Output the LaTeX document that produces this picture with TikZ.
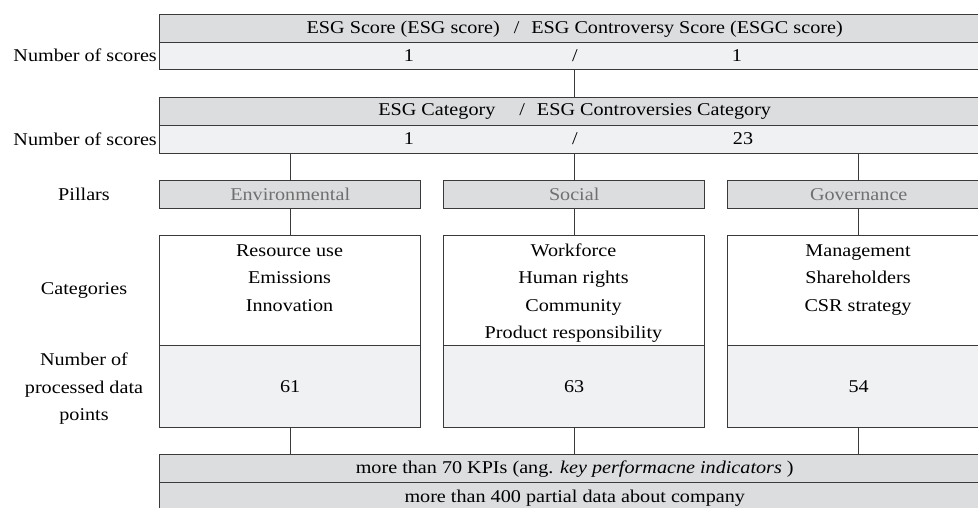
\documentclass[tikz,border=0pt]{standalone}
\usepackage{fontspec}
\setmainfont{Liberation Serif}[FakeStretch=1.12]
\definecolor{gA}{HTML}{DCDDDF}
\definecolor{gB}{HTML}{F0F1F3}
\definecolor{lc}{HTML}{3A3A3A}
\definecolor{pt}{HTML}{707070}
\begin{document}
\begin{tikzpicture}[x=1pt,y=-1pt,
  every node/.style={font=\fontsize{18}{27.5}\selectfont, inner sep=0pt, text=black},
  box/.style={draw=lc, line width=1.4pt, anchor=north west, inner sep=0pt},
  dark/.style={box, fill=gA},
  light/.style={box, fill=gB},
  plain/.style={box, fill=white},
  pill/.style={dark, text=pt},
  conn/.style={draw=lc, line width=1.4pt},
  lbl/.style={align=center}
]
\useasboundingbox (0,0) rectangle (978,507);
\clip (0,0) rectangle (978,507);

% top rows
\node[dark, minimum width=830, minimum height=28] (r1a) at (159,14) {ESG Score (ESG score)\hspace{14pt}/\hspace{12pt}ESG Controversy Score (ESGC score)};
\node[light, minimum width=830, minimum height=27] (r1b) at (159,42) {};
\node (r1x) at (409,55.5) {1};
\node (r1y) at (575,55.5) {/};
\node (r1z) at (737,55.5) {1};
\node[anchor=east] (l1) at (157,55.5) {Number of scores};

\node[dark, minimum width=830, minimum height=28] (r2a) at (159,97) {ESG Category\hspace{24pt}/\hspace{12pt}ESG Controversies Category};
\node[light, minimum width=830, minimum height=28] (r2b) at (159,125) {};
\node (r2x) at (409,139) {1};
\node (r2y) at (575,139) {/};
\node (r2z) at (743,139) {23};
\node[anchor=east] (l2) at (157,139) {Number of scores};

% pillars
\node[pill, minimum width=261, minimum height=28] (eP) at (159,180) {Environmental};
\node[pill, minimum width=261, minimum height=28] (sP) at (443,180) {Social};
\node[pill, minimum width=262, minimum height=28] (gP) at (727,180) {Governance};
\node (l3) at (84,194) {Pillars};

% categories
\node[plain, minimum width=261, minimum height=110] (eC) at (159,235) {};
\node[plain, minimum width=261, minimum height=110] (sC) at (443,235) {};
\node[plain, minimum width=262, minimum height=110] (gC) at (727,235) {};
\node[lbl, anchor=north] (eCt) at (289.5,237) {\strut Resource use\\Emissions\\Innovation};
\node[lbl, anchor=north] (sCt) at (573.5,237) {\strut Workforce\\Human rights\\Community\\Product responsibility};
\node[lbl, anchor=north] (gCt) at (858,237) {\strut Management\\Shareholders\\CSR strategy};
\node (l4) at (84,290) {Categories};

% data points
\node[light, minimum width=261, minimum height=82] (eD) at (159,345) {61};
\node[light, minimum width=261, minimum height=82] (sD) at (443,345) {63};
\node[light, minimum width=262, minimum height=82] (gD) at (727,345) {54};
\node[lbl] (l5) at (84,389) {Number of\\processed data\\points};

% bottom rows
\node[dark, minimum width=830, minimum height=28] (b1) at (159,454) {more than 70 KPIs (ang. \textit{key performacne indicators} )};
\node[dark, minimum width=830, minimum height=30] (b2) at (159,482) {more than 400 partial data about company};

% connectors
\draw[conn] (r1b.south -| sP.north) -- (r2a.north -| sP.north);
\draw[conn] (r2b.south -| eP.north) -- (eP.north);
\draw[conn] (r2b.south -| sP.north) -- (sP.north);
\draw[conn] (r2b.south -| gP.north) -- (gP.north);
\draw[conn] (eP.south) -- (eC.north);
\draw[conn] (sP.south) -- (sC.north);
\draw[conn] (gP.south) -- (gC.north);
\draw[conn] (eD.south) -- (eD.south |- b1.north);
\draw[conn] (sD.south) -- (sD.south |- b1.north);
\draw[conn] (gD.south) -- (gD.south |- b1.north);
\end{tikzpicture}
\end{document}
